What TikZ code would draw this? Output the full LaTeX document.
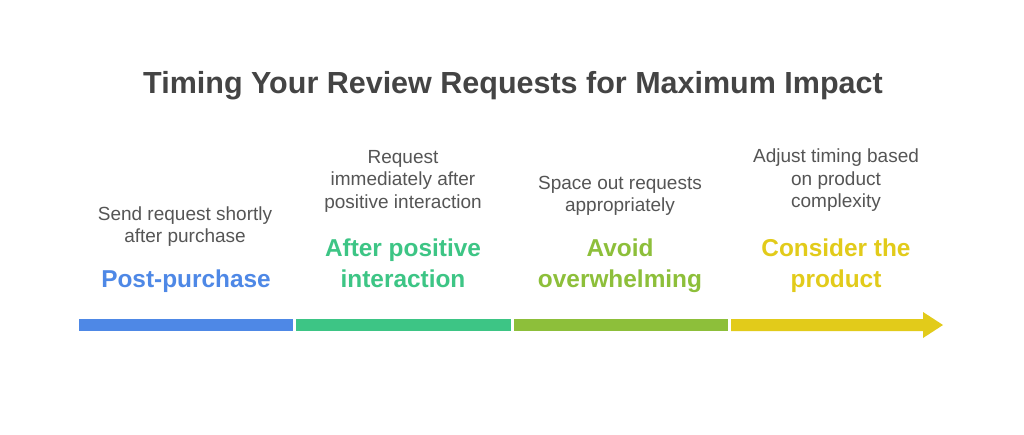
\documentclass[tikz,border=0pt]{standalone}
\usepackage{fontspec}
\setmainfont{Liberation Sans}
\definecolor{cblue}{HTML}{4E88E6}
\definecolor{cgreen}{HTML}{3DC585}
\definecolor{clime}{HTML}{8DBF3A}
\definecolor{cyellow}{HTML}{E2CB1A}
\definecolor{ctitle}{HTML}{444444}
\definecolor{cdesc}{HTML}{555555}
\begin{document}
\begin{tikzpicture}[x=1pt,y=-1pt,
  desc/.style={align=center,text=cdesc,inner sep=0pt,anchor=base,font=\fontsize{19}{22.5}\selectfont},
  lbl/.style={align=center,inner sep=0pt,anchor=base,font=\bfseries\fontsize{24.4}{30.7}\selectfont}]
\useasboundingbox (0,0) rectangle (1024,434);
\fill[white] (0,0) rectangle (1024,434);
\node[text=ctitle,inner sep=0pt,anchor=base,font=\bfseries\fontsize{30.5}{36}\selectfont] (title) at (513,93.3) {Timing Your Review Requests for Maximum Impact};
% bar
\fill[cblue] (79,319) rectangle (293,331);
\fill[cgreen] (296,319) rectangle (511,331);
\fill[clime] (514,319) rectangle (728,331);
\fill[cyellow] (731,319) -- (923,319) -- (923,312) -- (943,325) -- (923,338) -- (923,331) -- (731,331) -- cycle;
% columns (node base = baseline of last line)
\node[desc] (d1) at (185,242.5) {Send request shortly\\after purchase};
\node[lbl,text=cblue] (l1) at (186,287) {Post-purchase};
\node[desc] (d2) at (403,208) {Request\\immediately after\\positive interaction};
\node[lbl,text=cgreen] (l2) at (403,287) {After positive\\interaction};
\node[desc] (d3) at (620,211.5) {Space out requests\\appropriately};
\node[lbl,text=clime] (l3) at (620,287) {Avoid\\overwhelming};
\node[desc] (d4) at (836,207.5) {Adjust timing based\\on product\\complexity};
\node[lbl,text=cyellow] (l4) at (836,287) {Consider the\\product};
\end{tikzpicture}
\end{document}
